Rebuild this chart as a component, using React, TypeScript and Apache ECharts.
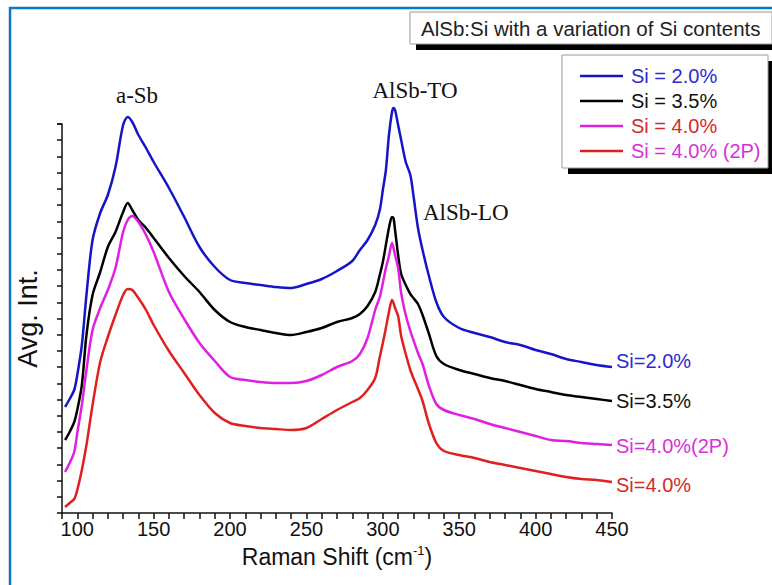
import React, { useEffect, useRef } from "react";
import * as echarts from "echarts";

// Raman shift (cm-1)
const ramanShift = [
  92, 95, 98, 100, 103, 106, 110, 115, 120, 125, 130, 133, 136, 140, 145, 150,
  160, 170, 180, 190, 200, 210, 220, 230, 240, 250, 260, 270, 280, 285, 290,
  295, 298, 300, 302, 304, 306, 307, 308, 310, 312, 315, 318, 320, 323, 326,
  330, 335, 340, 350, 360, 370, 380, 390, 400, 410, 420, 430, 440, 450,
];

// Average intensity (a.u., offset-stacked)
const si20 = [
  106, 114, 123, 138, 168, 218, 273, 300, 318, 346, 388, 396, 391, 378, 365, 351,
  325, 296, 266, 246, 233, 230, 228, 226, 225, 229, 234, 242, 252, 263, 273,
  288, 303, 323, 343, 378, 401, 405, 403, 388, 373, 351, 338, 318, 285, 263,
  238, 211, 196, 185, 180, 176, 171, 168, 163, 159, 154, 151, 148, 146,
];
const si35 = [
  73, 81, 91, 103, 128, 178, 218, 241, 266, 281, 301, 310, 303, 293, 285, 275,
  255, 237, 221, 203, 191, 186, 183, 180, 178, 181, 185, 191, 195, 199, 207,
  221, 238, 251, 268, 285, 296, 295, 283, 258, 239, 228, 219, 215, 209, 198,
  180, 157, 149, 143, 139, 135, 132, 128, 124, 121, 118, 116, 114, 112,
];
const si40_2P = [
  41, 50, 61, 80, 108, 143, 183, 205, 223, 245, 281, 293, 297, 291, 278, 261,
  221, 194, 170, 152, 136, 133, 131, 130, 130, 132, 138, 146, 152, 159, 175,
  203, 216, 230, 245, 257, 270, 265, 258, 245, 220, 198, 182, 173, 160, 149,
  128, 109, 103, 98, 94, 89, 85, 81, 77, 73, 72, 70, 69, 68,
];
const si40 = [
  6, 10, 14, 23, 43, 68, 108, 151, 176, 198, 218, 224, 223, 215, 203, 188,
  162, 140, 118, 100, 90, 87, 85, 84, 83, 85, 94, 103, 111, 115, 123,
  135, 156, 170, 185, 201, 213, 210, 205, 197, 177, 159, 143, 135, 124, 112,
  90, 70, 62, 58, 55, 51, 48, 45, 42, 39, 36, 34, 33, 31,
];

const seriesNames = ["Si = 2.0%", "Si = 3.5%", "Si = 4.0% (2P)", "Si = 4.0%"];
const endLabels = ["Si=2.0%", "Si=3.5%", "Si=4.0%(2P)", "Si=4.0%"];
const xLabelValues = [100, 150, 200, 250, 300, 350, 400, 450];
const peakLabels = ["a-Sb", "AlSb-TO", "AlSb-LO"];
const titleText = "AlSb:Si with a variation of Si contents";

const BLUE = "#1515c8";
const BLACK = "#000000";
const MAGENTA = "#e020e0";
const RED = "#e02020";
const SANS = '"Liberation Sans", Arial, sans-serif';
const SERIF = '"Liberation Serif", "Times New Roman", serif';

export default function App() {
  const ref = useRef<HTMLDivElement>(null);
  useEffect(() => {
    if (!ref.current) return;
    const chart = echarts.init(ref.current, undefined, { renderer: "svg" });
    const data = [si20, si35, si40_2P, si40];
    const colors = [BLUE, BLACK, MAGENTA, RED];
    const labelColors = ["#2a2ad2", "#111111", "#d830d8", "#d42a2a"];
    const labelOffsets = [[0, -6], [0, 0], [0, 1], [0, 3]];
    const yMax = 389;
    chart.setOption({
      animation: false,
      grid: { left: 62, right: 160, top: 124, bottom: 72 },
      xAxis: {
        type: "value",
        min: 90,
        max: 450,
        interval: 10,
        name: "{a|Raman Shift (cm}{s|-1}{a|)}",
        nameLocation: "middle",
        nameGap: 25,
        nameTextStyle: {
          rich: {
            a: { fontSize: 23, fontFamily: SANS, color: "#111" },
            s: { fontSize: 13, fontFamily: SANS, color: "#111", verticalAlign: "top", padding: [0, 0, 14, 0] },
          },
        },
        axisLine: { lineStyle: { color: "#111", width: 1.5 } },
        axisTick: { show: true, inside: false, length: 6, lineStyle: { color: "#111", width: 1.5 } },
        axisLabel: {
          margin: 6,
          fontSize: 20,
          fontFamily: SANS,
          color: "#111",
          formatter: (v: number) => (xLabelValues.includes(v) ? String(v) : ""),
        },
        splitLine: { show: false },
      },
      yAxis: {
        type: "value",
        min: 0,
        max: yMax,
        interval: yMax / 24,
        name: "Avg. Int.",
        nameLocation: "middle",
        nameRotate: 90,
        nameGap: 21,
        nameTextStyle: { fontSize: 27, fontFamily: SANS, color: "#111" },
        axisLine: { show: true, lineStyle: { color: "#111", width: 1.5 } },
        axisTick: { show: true, inside: false, length: 5, lineStyle: { color: "#111", width: 1.5 } },
        axisLabel: { show: false },
        splitLine: { show: false },
      },
      legend: {
        orient: "vertical",
        left: 580,
        top: 66,
        padding: 0,
        icon: "rect",
        itemWidth: 43,
        itemHeight: 2.5,
        itemGap: 5,
        selectedMode: false,
        z: 10,
        textStyle: { fontSize: 20, fontFamily: SANS, padding: [0, 0, 0, 3] },
        data: [
          { name: seriesNames[0], textStyle: { color: labelColors[0] }, itemStyle: { color: BLUE } },
          { name: seriesNames[1], textStyle: { color: labelColors[1] }, itemStyle: { color: BLACK } },
          { name: seriesNames[3], textStyle: { color: labelColors[3] }, itemStyle: { color: MAGENTA } },
          { name: seriesNames[2], textStyle: { color: labelColors[2] }, itemStyle: { color: RED } },
        ],
      },
      series: data.map((vals, i) => ({
        name: seriesNames[i],
        type: "line",
        data: ramanShift.map((x, j) => [x, vals[j]]),
        symbol: "none",
        smooth: 0.3,
        clip: false,
        color: colors[i],
        lineStyle: { color: colors[i], width: 2.5 },
        endLabel: {
          show: true,
          formatter: endLabels[i],
          color: labelColors[i],
          fontSize: 20,
          fontFamily: SANS,
          distance: 4,
          offset: labelOffsets[i],
        },
        z: 3,
      })),
      graphic: [
        { type: "line", shape: { x1: 9, y1: 8, x2: 772, y2: 8 }, style: { stroke: "#0a77c9", lineWidth: 2.5 }, z: 1 },
        { type: "line", shape: { x1: 10, y1: 7, x2: 10, y2: 585 }, style: { stroke: "#0a77c9", lineWidth: 2.5 }, z: 1 },
        { type: "rect", shape: { x: 416, y: 18, width: 362, height: 32 }, style: { fill: "#000" }, z: 1 },
        { type: "rect", shape: { x: 410, y: 12, width: 362, height: 32 }, style: { fill: "#fff", stroke: "#999", lineWidth: 1 }, z: 2 },
        { type: "text", x: 421, y: 28, style: { text: titleText, fill: "#222", font: `20.5px ${SANS}`, textVerticalAlign: "middle" }, z: 3 },
        { type: "rect", shape: { x: 568, y: 61, width: 206, height: 113 }, style: { fill: "#000" }, z: 1 },
        { type: "rect", shape: { x: 562, y: 55, width: 206, height: 113 }, style: { fill: "#fff", stroke: "#999", lineWidth: 1 }, z: 2 },
        { type: "text", x: 137, y: 95, style: { text: peakLabels[0], fill: "#111", font: `23px ${SERIF}`, textAlign: "center", textVerticalAlign: "middle" }, z: 3 },
        { type: "text", x: 415, y: 90, style: { text: peakLabels[1], fill: "#111", font: `23px ${SERIF}`, textAlign: "center", textVerticalAlign: "middle" }, z: 3 },
        { type: "text", x: 423, y: 212, style: { text: peakLabels[2], fill: "#111", font: `23px ${SERIF}`, textAlign: "left", textVerticalAlign: "middle" }, z: 3 },
      ],
    });
    return () => chart.dispose();
  }, []);
  return (
    <div
      ref={ref}
      style={{ position: "fixed", left: 0, top: 0, width: 772, height: 585, background: "#fff" }}
    />
  );
}
